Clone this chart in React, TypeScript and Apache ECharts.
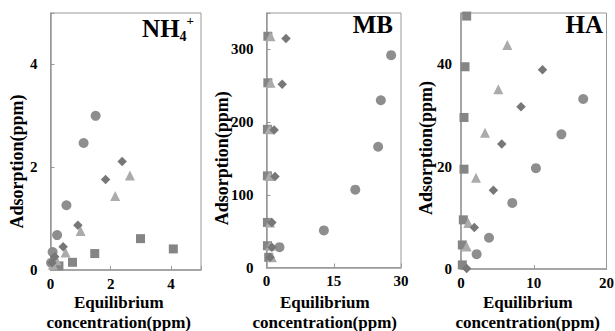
import React, { useEffect, useRef } from "react";
import * as echarts from "echarts";

// ---------- data ----------
const nh4Circle = [[0.02, 0.14], [0.07, 0.35], [0.22, 0.68], [0.53, 1.26], [1.1, 2.47], [1.5, 3.0]];
const nh4Square = [[0.1, 0.12], [0.28, 0.08], [0.73, 0.15], [1.47, 0.32], [2.99, 0.61], [4.08, 0.41]];
const nh4Triangle = [[0.08, 0.1], [0.2, 0.19], [0.5, 0.34], [1.0, 0.76], [2.15, 1.44], [2.64, 1.84]];
const nh4Diamond = [[0.05, 0.14], [0.14, 0.26], [0.42, 0.45], [0.91, 0.87], [1.83, 1.76], [2.38, 2.11]];

const mbCircle = [[2.9, 28], [12.8, 51], [19.8, 107], [24.9, 166], [25.5, 230], [27.8, 292]];
const mbSquare = [[0.5, 14], [0.2, 30], [0.2, 62], [0.2, 126], [0.2, 190], [0.3, 254], [0.3, 318]];
const mbTriangle = [[1.2, 14], [0.8, 30], [0.8, 62], [0.7, 126], [0.7, 190], [0.9, 254], [0.9, 318]];
const mbDiamond = [[0.8, 14], [1.2, 28], [1.2, 62], [1.9, 125], [1.7, 189], [3.5, 252], [4.35, 315]];

const haCircle = [[2.15, 2.9], [3.85, 6.1], [7.05, 12.9], [10.3, 19.7], [13.8, 26.3], [16.8, 33.2]];
const haSquare = [[0.18, 0.8], [0.18, 4.7], [0.32, 9.6], [0.41, 19.5], [0.41, 29.6], [0.55, 39.5], [0.78, 49.4]];
const haTriangle = [[0.78, 4.4], [1.0, 9.0], [2.06, 17.8], [3.3, 26.6], [5.13, 35.1], [6.37, 43.75]];
const haDiamond = [[0.78, 0.1], [1.83, 8.1], [4.45, 15.4], [5.6, 24.4], [8.25, 31.7], [11.2, 38.9]];

const panelTitles = ["NH4+", "MB", "HA"];
const xRanges = [[0, 5, 2], [0, 30, 15], [0, 20, 10]];
const yRanges = [[0, 5, 2], [0, 350, 100], [0, 50, 20]];
const yAxisName = "Adsorption(ppm)";
const xAxisName = "Equilibrium\nconcentration(ppm)";

// ---------- styles ----------
const FONT = "Liberation Serif";
const C_CIRCLE = "#8e8e8e";
const C_SQUARE = "#858585";
const C_TRIANGLE = "#ababab";
const C_DIAMOND = "#777777";
const AXIS_C = "#999999";

const grids = [
  { left: 50.5, top: 13, width: 150.5, height: 257 },
  { left: 266.5, top: 13, width: 134.5, height: 254.5 },
  { left: 461, top: 13, width: 145.5, height: 256 },
];
const yLabelMargin = [13, 13, 9];
const yNameGap = [25, 36, 26];
const yNameShift = [40, 36, 14];
const xNameGap = [22, 24.5, 23];
const xNameShift = [14, 18, 12];
const titleRight = [421, 222, 12];
const titleTop = [16, 12, 12];

export default function App() {
  const ref = useRef<HTMLDivElement>(null);
  useEffect(() => {
    if (!ref.current) return;
    const chart = echarts.init(ref.current, null, { renderer: "svg" });
    const sets = [
      [nh4Circle, nh4Square, nh4Triangle, nh4Diamond],
      [mbCircle, mbSquare, mbTriangle, mbDiamond],
      [haCircle, haSquare, haTriangle, haDiamond],
    ];
    const kinds = [
      { symbol: "circle", size: 10, color: C_CIRCLE },
      { symbol: "rect", size: 9, color: C_SQUARE },
      { symbol: "triangle", size: 10, color: C_TRIANGLE },
      { symbol: "diamond", size: 9.5, color: C_DIAMOND },
    ];
    const series: any[] = [];
    sets.forEach((s, gi) => {
      s.forEach((data, ki) => {
        series.push({
          type: "scatter",
          xAxisIndex: gi,
          yAxisIndex: gi,
          data,
          symbol: kinds[ki].symbol,
          symbolSize: kinds[ki].size,
          itemStyle: { color: kinds[ki].color, opacity: 1 },
          clip: false,
        });
      });
    });
    const labelStyle = { fontFamily: FONT, fontWeight: "bold", fontSize: 15, color: "#000" };
    const titleRich = {
      big: { fontFamily: FONT, fontWeight: "bold", fontSize: 25, color: "#000" },
      sub: { fontFamily: FONT, fontWeight: "bold", fontSize: 14, color: "#000", verticalAlign: "bottom", padding: [0, 0, -2, 0] },
      sup: { fontFamily: FONT, fontWeight: "bold", fontSize: 13, color: "#000", verticalAlign: "top", padding: [-2, 0, 0, 0] },
    };
    const option: any = {
      animation: false,
      backgroundColor: "#fff",
      textStyle: { fontFamily: FONT },
      title: panelTitles.map((t, i) => ({
        text: i === 0 ? "{big|NH}{sub|4}{sup|+}" : "{big|" + t + "}",
        right: titleRight[i],
        top: titleTop[i],
        padding: 0,
        textStyle: { rich: titleRich, fontFamily: FONT, fontWeight: "bold", fontSize: 25, color: "#000" },
      })),
      grid: grids.map((g) => ({
        ...g,
        show: true,
        borderColor: AXIS_C,
        borderWidth: 1,
        backgroundColor: "transparent",
        containLabel: false,
        outerBoundsMode: "none",
      })),
      xAxis: xRanges.map((r, i) => ({
        type: "value",
        gridIndex: i,
        min: r[0],
        max: r[1],
        interval: r[2],
        name: xAxisName,
        nameLocation: "middle",
        nameGap: xNameGap[i],
        nameMoveOverlap: false,
        nameTextStyle: {
          fontFamily: FONT,
          fontWeight: "bold",
          fontSize: 17,
          lineHeight: 20,
          color: "#000",
          padding: [0, xNameShift[i], 0, 0],
        },
        axisLine: { show: true, onZero: false, lineStyle: { color: AXIS_C, width: 1.5 } },
        axisTick: { show: true, inside: true, length: 4, lineStyle: { color: AXIS_C } },
        axisLabel: {
          ...labelStyle,
          margin: 6,
          formatter: (v: number) => (v % r[2] === 0 ? String(v) : ""),
        },
        splitLine: { show: false },
      })),
      yAxis: yRanges.map((r, i) => ({
        type: "value",
        gridIndex: i,
        min: r[0],
        max: r[1],
        interval: r[2],
        name: yAxisName,
        nameLocation: "middle",
        nameGap: yNameGap[i],
        nameMoveOverlap: false,
        nameTextStyle: {
          fontFamily: FONT,
          fontWeight: "bold",
          fontSize: 18,
          color: "#000",
          padding: [0, yNameShift[i], 0, 0],
        },
        axisLine: { show: true, onZero: false, lineStyle: { color: AXIS_C, width: 1.5 } },
        axisTick: { show: true, inside: true, length: 4, lineStyle: { color: AXIS_C } },
        axisLabel: {
          ...labelStyle,
          margin: yLabelMargin[i],
          formatter: (v: number) => (v % r[2] === 0 ? String(v) : ""),
        },
        splitLine: { show: false },
      })),
      series,
    };
    chart.setOption(option);
    return () => chart.dispose();
  }, []);
  return (
    <div
      ref={ref}
      style={{ position: "fixed", left: 0, top: 0, width: 615, height: 331, background: "#fff" }}
    />
  );
}
